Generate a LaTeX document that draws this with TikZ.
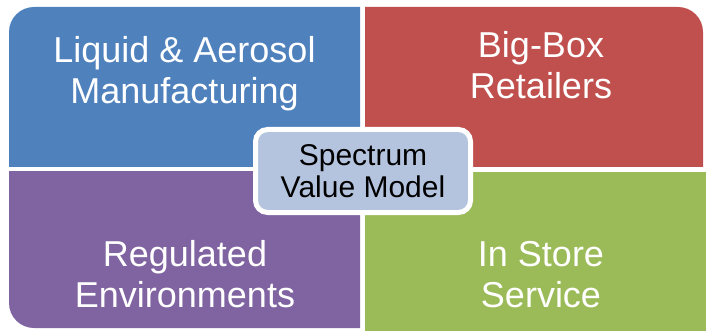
\documentclass[tikz,border=0pt]{standalone}
\usepackage{fontspec}
\setmainfont{Liberation Sans}
\definecolor{quadblue}{HTML}{4F81BD}
\definecolor{quadred}{HTML}{C0504D}
\definecolor{quadpurple}{HTML}{8064A2}
\definecolor{quadgreen}{HTML}{9BBB59}
\definecolor{hubfill}{RGB}{180,196,222}
\tikzstyle{quadtext} = [text=white, align=center, inner sep=0pt,
    font=\fontsize{36}{41}\selectfont]
\tikzstyle{hub} = [rectangle, draw=white, line width=5pt, fill=hubfill,
    rounded corners=12pt, minimum width=215pt, minimum height=83pt,
    inner sep=0pt, align=center, font=\fontsize{30}{32}\selectfont]

\begin{document}
\begin{tikzpicture}[x=1pt, y=-1pt]
    % Canvas
    \useasboundingbox (0,0) rectangle (706,331);
    % Quadrants
    \begin{scope}
        \clip (9,7) rectangle (360,167);
        \fill [quadblue, rounded corners=25pt] (9,7) rectangle (703,328);
    \end{scope}
    \begin{scope}
        \clip (365,7) rectangle (703,167);
        \fill [quadred, rounded corners=25pt] (9,7) rectangle (703,328);
    \end{scope}
    \begin{scope}
        \clip (9,172) rectangle (360,328);
        \fill [quadpurple, rounded corners=25pt] (9,7) rectangle (703,328);
    \end{scope}
    \fill [quadgreen] (365,172) rectangle (706,331);
    % Place nodes
    \node [quadtext] (mfg) at (184.5,73.3) {Liquid \& Aerosol\\Manufacturing};
    \node [quadtext] (retail) at (541,65.5) {Big-Box\\Retailers};
    \node [quadtext] (regulated) at (185,274.5) {Regulated\\Environments};
    \node [quadtext] (service) at (541,274.5) {In Store\\Service};
    \node [hub] (spectrum) at (363,171) {Spectrum\\Value Model};
\end{tikzpicture}
\end{document}
